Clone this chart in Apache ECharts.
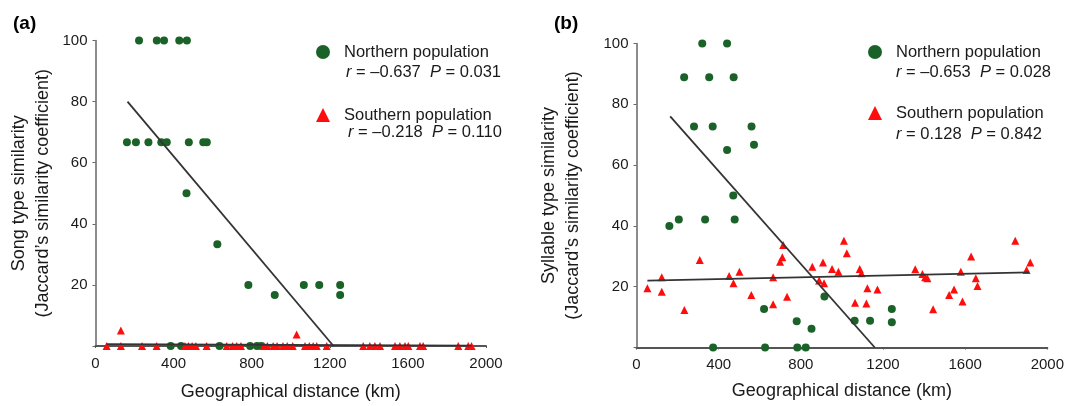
<!DOCTYPE html>
<html>
<head>
<meta charset="utf-8">
<script src="https://cdn.jsdelivr.net/npm/echarts@6/dist/echarts.min.js"></script>
<style>
html,body{margin:0;padding:0;background:#fff;}
#chart{width:1067px;height:406px;}
</style>
</head>
<body>
<div id="chart"></div>
<script>
// ---------- data ----------
const xTickLabels = ['0', '400', '800', '1200', '1600', '2000'];
const yTickLabels = ['20', '40', '60', '80', '100'];

const seriesNames = ['Northern population', 'Southern population'];
const statsSong = ['r = \u20130.637  P = 0.031', 'r = \u20130.218  P = 0.110'];
const statsSyllable = ['r = \u20130.653  P = 0.028', 'r = 0.128  P = 0.842'];

// (a) Song type similarity
const songNorth = [
  [223,100],[314,100],[351,100],[429,100],[468,100],
  [161,66.7],[207,66.7],[271,66.7],[337,66.7],[365,66.7],[478,66.7],[552,66.7],[570,66.7],
  [466,50],[624,33.3],
  [783,20],[1067,20],[1146,20],[1253,20],[918,16.7],[1253,16.7],
  [385,0],[438,0],[635,0],[792,0],[827,0],[849,0]
];
const songSouth = [
  [130,5.1],[1030,3.8],
  [57,0],[130,0],[238,0],[313,0],[458,0],[476,0],[495,0],[514,0],[569,0],
  [672,0],[702,0],[723,0],[745,0],[862,0],[880,0],[910,0],[930,0],[960,0],
  [982,0],[1010,0],[1073,0],[1095,0],[1115,0],[1133,0],[1184,0],
  [1371,0],[1405,0],[1431,0],[1457,0],[1534,0],[1559,0],[1585,0],[1602,0],
  [1662,0],[1678,0],[1858,0],[1909,0],[1926,0]
];
const songNorthFit = [[164,80],[1219,0]];
const songSouthFit = [[57,0.6],[1926,0.1]];

// (b) Syllable type similarity
const syllableNorth = [
  [320,100],[441,100],
  [232,88.9],[354,88.9],[473,88.9],
  [280,72.7],[371,72.7],[560,72.7],[572,66.7],[441,65],
  [471,50],
  [160,40],[206,42.1],[334,42.1],[478,42.1],
  [915,16.8],[621,12.7],[780,8.6],[852,6.2],
  [1062,8.8],[1137,8.8],[1243,12.7],[1243,8.3],
  [373,0],[626,0],[783,0],[824,0]
];
const syllableSouth = [
  [53,19.5],[123,23.1],[123,18.3],[233,12.3],[308,28.8],[451,23.5],[472,21.1],
  [501,24.9],[559,17.3],[665,23.1],[665,14.2],[733,16.7],[714,33.7],[710,29.7],
  [699,28.2],[856,26.6],[908,28.0],[889,22.0],[913,21.1],[952,25.8],
  [1010,35.1],[1024,31],[983,24.9],[1087,25.8],[1095,24.4],[1124,19.5],[1173,19.1],
  [1064,14.7],[1119,14.5],[1357,25.7],[1392,24.2],[1405,23.1],[1416,22.8],[1444,12.6],
  [1522,17.3],[1546,19.1],[1587,15.1],[1579,24.9],[1629,29.9],[1652,22.8],[1660,20.2],
  [1844,35.1],[1899,25.5],[1917,28.0]
];
const syllableNorthFit = [[164,76],[1160,0]];
const syllableSouthFit = [[53,22],[1912,24.7]];

// ---------- styling ----------
const FONT = '"Liberation Sans", Arial, Helvetica, sans-serif';
const GREEN = '#1b6229';
const RED = '#ff0d0d';
const AXIS = '#555';
const TXT = '#1a1a1a';

function xAxis(gridIndex, nameGap) {
  return {
    type: 'value', gridIndex, min: 0, max: 2000, interval: 400,
    name: 'Geographical distance (km)', nameLocation: 'middle', nameGap,
    nameTextStyle: { fontFamily: FONT, fontSize: 18, color: TXT },
    axisLine: { show: true, onZero: false, lineStyle: { color: AXIS, width: 2 } },
    axisTick: { show: true, length: 2, lineStyle: { color: AXIS } },
    axisLabel: { margin: 10, fontFamily: FONT, fontSize: 15, color: TXT,
      formatter: v => xTickLabels[Math.round(v / 400)] },
    splitLine: { show: false }
  };
}
function yAxis(gridIndex, name, nameGap) {
  return {
    type: 'value', gridIndex, min: 0, max: 100, interval: 20,
    name, nameLocation: 'middle', nameGap,
    nameTextStyle: { fontFamily: FONT, fontSize: 18, color: TXT, lineHeight: 24 },
    axisLine: { show: true, lineStyle: { color: '#666', width: 1.5 } },
    axisTick: { show: true, length: 3, lineStyle: { color: '#666' } },
    axisLabel: { margin: 8, fontFamily: FONT, fontSize: 15, color: TXT,
      formatter: v => (v === 0 ? '' : yTickLabels[Math.round(v / 20) - 1]) },
    splitLine: { show: false }
  };
}
function pts(name, data, idx, symbol, color, size) {
  return { type: 'scatter', name, data, xAxisIndex: idx, yAxisIndex: idx,
    symbol, symbolSize: size, itemStyle: { color, opacity: 1 }, z: 3 };
}
function fit(data, idx) {
  return { type: 'line', data, xAxisIndex: idx, yAxisIndex: idx, showSymbol: false,
    symbol: 'none', silent: true, lineStyle: { color: '#333', width: 1.8 }, z: 4 };
}
function legend(left, top, gap) {
  return {
    data: seriesNames, orient: 'vertical', left, top, itemGap: gap, padding: 0,
    itemWidth: 14, itemHeight: 14, selectedMode: false,
    itemStyle: { opacity: 1 },
    textStyle: { fontFamily: FONT, fontSize: 16.5, color: TXT, lineHeight: 18, padding: [0, 0, 0, 9] }
  };
}
function statText(left, cy, s) {
  const parts = s.split(/(r|P)(?= =)/);
  let rich = '';
  parts.forEach(p => { if (p === 'r' || p === 'P') rich += '{i|' + p + '}'; else if (p) rich += '{n|' + p + '}'; });
  return { type: 'text', left, top: cy - 9, z: 10,
    style: { text: rich, rich: {
      n: { fontFamily: FONT, fontSize: 16.5, fill: TXT, lineHeight: 18 },
      i: { fontFamily: FONT, fontSize: 16.5, fontStyle: 'italic', fill: TXT, lineHeight: 18 } } } };
}

const chart = echarts.init(document.getElementById('chart'), null, { renderer: 'canvas' });
chart.setOption({
  backgroundColor: '#fff',
  animation: false,
  grid: [
    { left: 95.5, top: 40.5, width: 390.5, height: 306 },
    { left: 636.5, top: 43.5, width: 411, height: 304 }
  ],
  xAxis: [xAxis(0, 37), xAxis(1, 35)],
  yAxis: [
    yAxis(0, 'Song type similarity\n(Jaccard\u2019s similarity coefficient)', 40),
    yAxis(1, 'Syllable type similarity\n(Jaccard\u2019s similarity coefficient)', 51)
  ],
  legend: [legend(316, 43, 45), legend(868, 43, 43)],
  series: [
    fit(songNorthFit, 0), fit(songSouthFit, 0),
    pts(seriesNames[0], songNorth, 0, 'circle', GREEN, 8),
    pts(seriesNames[1], songSouth, 0, 'triangle', RED, 8),
    fit(syllableNorthFit, 1), fit(syllableSouthFit, 1),
    pts(seriesNames[0], syllableNorth, 1, 'circle', GREEN, 8),
    pts(seriesNames[1], syllableSouth, 1, 'triangle', RED, 8)
  ],
  graphic: [
    { type: 'text', left: 13, top: 14, style: { text: '(a)', fontFamily: FONT, fontSize: 19, fontWeight: 'bold', fill: '#000' } },
    { type: 'text', left: 554, top: 14, style: { text: '(b)', fontFamily: FONT, fontSize: 19, fontWeight: 'bold', fill: '#000' } },
    statText(346, 73, statsSong[0]),
    statText(348, 133, statsSong[1]),
    statText(896, 72.5, statsSyllable[0]),
    statText(896, 135, statsSyllable[1])
  ]
});
</script>
</body>
</html>
